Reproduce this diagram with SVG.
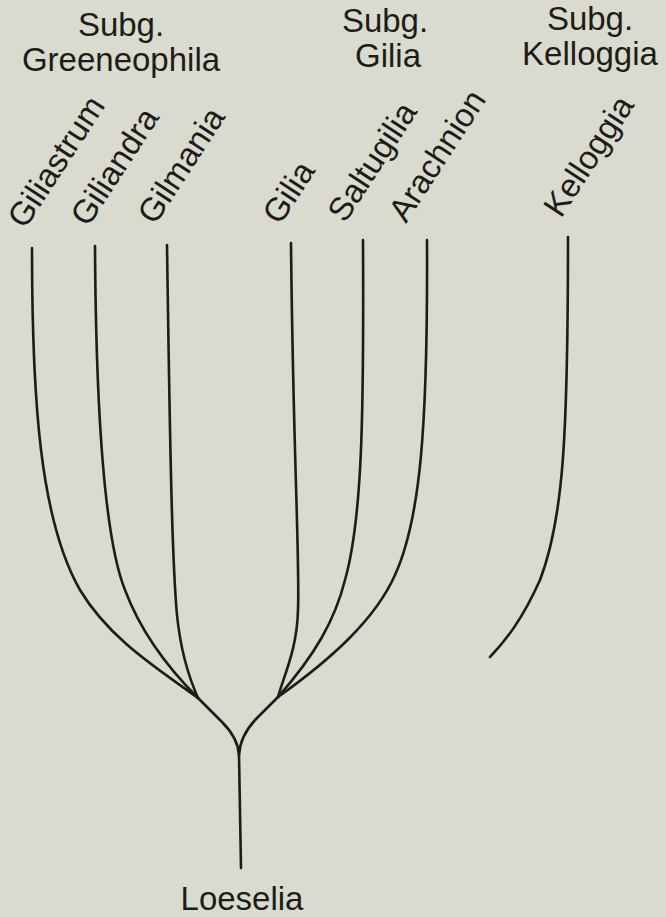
<svg xmlns="http://www.w3.org/2000/svg" width="666" height="917" viewBox="0 0 666 917">
<style>
.t{font-family:"Liberation Sans",Arial,Helvetica,sans-serif;font-size:33px;fill:#1f1c18}
.m{text-anchor:middle}
.b{fill:none;stroke:#1f1b17;stroke-width:2.6;stroke-linecap:round;stroke-linejoin:round}
</style>
<rect x="0" y="0" width="666" height="917" fill="#d9dbcf"/>
<g id="heading-greeneophila"><text class="t m" x="121" y="36">Subg.</text><text class="t m" x="121" y="71">Greeneophila</text></g>
<g id="heading-gilia"><text class="t m" x="385" y="32">Subg.</text><text class="t m" x="388" y="67">Gilia</text></g>
<g id="heading-kelloggia"><text class="t m" x="590" y="30">Subg.</text><text class="t m" x="590" y="65">Kelloggia</text></g>
<g id="giliastrum"><text class="t" transform="translate(25,230) rotate(-57)">Giliastrum</text></g>
<g id="giliandra"><text class="t" transform="translate(88,228) rotate(-57)">Giliandra</text></g>
<g id="gilmania"><text class="t" transform="translate(155,226) rotate(-57)">Gilmania</text></g>
<g id="gilia"><text class="t" transform="translate(280,226) rotate(-57)">Gilia</text></g>
<g id="saltugilia"><text class="t" transform="translate(345,224) rotate(-57)">Saltugilia</text></g>
<g id="arachnion"><text class="t" transform="translate(406,224) rotate(-57)">Arachnion</text></g>
<g id="kelloggia"><text class="t" transform="translate(561,219) rotate(-57)">Kelloggia</text></g>
<g id="loeselia"><text class="t m" x="242" y="910">Loeselia</text></g>
<g id="connectors">
<path class="b" d="M32,248 C32,400 40,520 80,590 C110,640 160,670 198,698"/>
<path class="b" d="M95,246 C96,420 105,540 125,590 C140,630 165,665 198,698"/>
<path class="b" d="M167,245 C170,450 172,560 177,615 C181,655 190,680 198,698"/>
<path class="b" d="M291,243 C293,450 300,560 298,610 C297,650 284,675 278,697"/>
<path class="b" d="M363,240 C364,420 362,520 345,580 C335,620 315,655 278,697"/>
<path class="b" d="M427,240 C428,430 420,520 395,575 C375,620 330,660 278,697"/>
<path class="b" d="M568,237 C568,440 563,520 540,580 C522,620 506,640 490,657"/>
<path class="b" d="M198,698 L222,722 Q238,738 239,755 L241,868"/>
<path class="b" d="M278,697 L256,719 Q240,736 239,755"/>
</g>
</svg>
